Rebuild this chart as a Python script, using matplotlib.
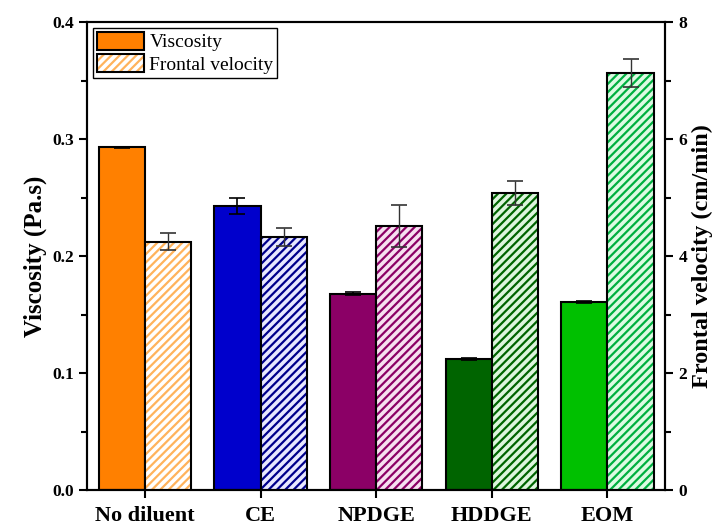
import matplotlib
matplotlib.use('Agg')
from matplotlib import pyplot as plt
from matplotlib.patches import Patch
from matplotlib.ticker import MultipleLocator
import numpy as np

plt.rcParams['font.family'] = ['Liberation Serif', 'DejaVu Serif']
plt.rcParams['hatch.linewidth'] = 1.6

categories = ['No diluent', 'CE', 'NPDGE', 'HDDGE', 'EOM']
viscosity = [0.293, 0.243, 0.168, 0.112, 0.161]
viscosity_err = [0.0005, 0.0066, 0.001, 0.001, 0.001]
velocity = [4.25, 4.33, 4.52, 5.08, 7.13]
velocity_err = [0.15, 0.15, 0.36, 0.20, 0.24]

solid_colors = ['#FF8000', '#0000CC', '#8B0066', '#006400', '#00C000']
hatch_colors = ['#FFB35C', '#00008B', '#8B0066', '#006400', '#00B040']
hatch_faces = ['#FFFFFF', '#E8E8FF', '#F6E0F0', '#DDF5DD', '#DDFBE3']

x = np.arange(len(categories))
w = 0.4

fig, ax = plt.subplots(figsize=(7.2, 5.26), dpi=100)
fig.subplots_adjust(left=0.121, right=0.924, top=0.958, bottom=0.068)
ax2 = ax.twinx()

ax.bar(x - w / 2, viscosity, w, color=solid_colors, edgecolor='black', linewidth=1.5,
       zorder=2)
ax.errorbar(x - w / 2, viscosity, yerr=viscosity_err, fmt='none', ecolor='black',
            capsize=6, elinewidth=1.2, capthick=1.2, zorder=3)

# hatched bars: hatch drawn with edge colour, then black outline on top
for i in range(len(x)):
    ax2.bar(x[i] + w / 2, velocity[i], w, color=hatch_faces[i], edgecolor=hatch_colors[i],
            hatch='////', linewidth=0, zorder=2)
ax2.bar(x + w / 2, velocity, w, fill=False, edgecolor='black', linewidth=1.5, zorder=3)
ax2.errorbar(x + w / 2, velocity, yerr=velocity_err, fmt='none', ecolor='#333333',
             capsize=6, elinewidth=1.0, capthick=1.2, zorder=4)

ax.set_xlim(-0.5, 4.5)
ax.set_ylim(0, 0.4)
ax2.set_ylim(0, 8)
ax.set_xticks(x)
ax.set_xticklabels(categories, fontsize=16, fontweight='bold')
ax.yaxis.set_major_locator(MultipleLocator(0.1))
ax.yaxis.set_minor_locator(MultipleLocator(0.05))
ax2.yaxis.set_major_locator(MultipleLocator(2))
ax2.yaxis.set_minor_locator(MultipleLocator(1))

for a in (ax, ax2):
    a.tick_params(axis='y', which='major', direction='out', length=6, width=1.5,
                  labelsize=12.5)
    a.tick_params(axis='y', which='minor', direction='out', length=4, width=1.5)
    for s in a.spines.values():
        s.set_linewidth(1.5)
    for lab in a.get_yticklabels():
        lab.set_fontweight('bold')
ax.tick_params(axis='x', which='major', direction='out', length=6, width=1.5, pad=5)

ax.set_ylabel('Viscosity (Pa.s)', fontsize=18, fontweight='bold', labelpad=4)
ax2.set_ylabel('Frontal velocity (cm/min)', fontsize=17.5, fontweight='bold', labelpad=3)

h_solid = Patch(facecolor='#FF8000', edgecolor='black', linewidth=1.5)
h_hatch = (Patch(facecolor='white', edgecolor='#FFB35C', hatch='////', linewidth=0),
           Patch(fill=False, edgecolor='black', linewidth=1.5))
leg = ax.legend([h_solid, h_hatch], ['Viscosity', 'Frontal velocity'], loc='upper left',
                fontsize=14, fancybox=False, edgecolor='black', framealpha=1,
                handlelength=2.4, handleheight=1.05, borderpad=0.2, labelspacing=0.15,
                handletextpad=0.3, borderaxespad=0.3)
leg.get_frame().set_linewidth(1.0)
leg.set_zorder(10)

fig.savefig('out.png', dpi=100)
